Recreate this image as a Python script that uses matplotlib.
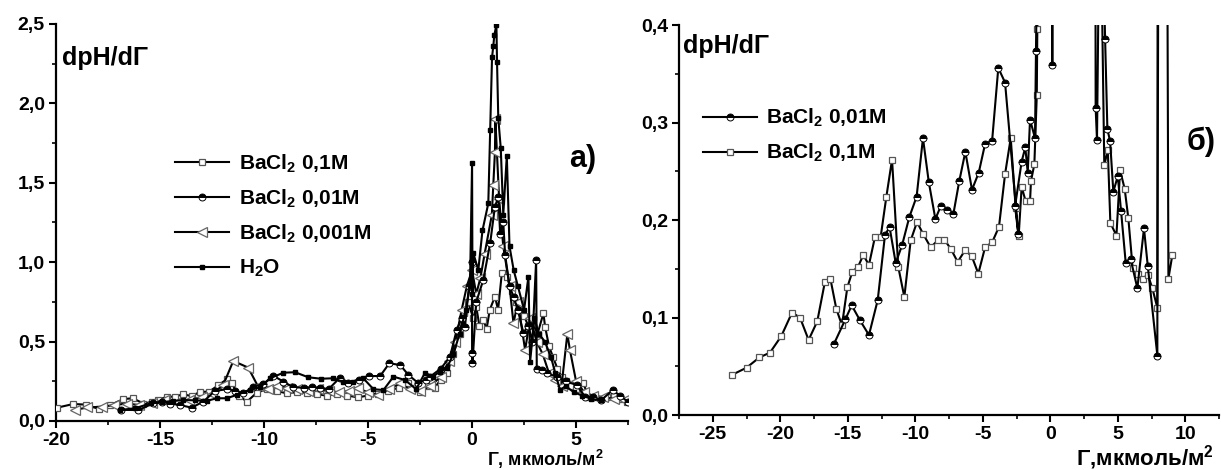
import matplotlib

matplotlib.use("Agg")
import matplotlib.pyplot as plt
from matplotlib.ticker import MultipleLocator, FuncFormatter

plt.rcParams.update({
    "font.family": ["Liberation Sans", "DejaVu Sans"],
    "font.weight": "bold",
    "mathtext.default": "regular",
    "axes.linewidth": 1.6,
})

# ---- panel a) : dpH/dG vs G, four solutions ----
a_sq_x = [-19.94, -19.17, -18.56, -17.95, -17.4, -16.76, -16.31, -15.8, -15.4, -15.08, -14.68, -14.28,
          -13.91, -13.48, -13.08, -12.64, -12.2, -11.8, -11.56, -11.2, -10.83, -10.35, -9.87, -9.39,
          -8.91, -8.43, -7.95, -7.47, -6.99, -6.5, -6.0, -5.5, -5.0, -4.51, -4.02, -3.5, -3.06, -2.5,
          -2.1, -1.8, -1.5, -1.2, -0.9, -0.6, -0.4, -0.2, 0.06, 0.2, 0.35, 0.54, 0.7, 0.85, 1.1, 1.25,
          1.43, 1.67, 1.9, 2.1, 2.3, 2.5, 2.7, 2.9, 3.15, 3.43, 3.51, 3.7, 3.9, 4.1, 4.3, 4.5, 4.75,
          5.0, 5.35, 5.6, 5.9, 6.2, 6.5, 6.8, 7.1, 7.44]
a_sq_y = [0.084, 0.107, 0.103, 0.076, 0.10, 0.138, 0.143, 0.11, 0.12, 0.132, 0.153, 0.153,
          0.168, 0.157, 0.183, 0.185, 0.225, 0.262, 0.237, 0.16, 0.121, 0.178, 0.201, 0.189,
          0.174, 0.181, 0.178, 0.170, 0.159, 0.17, 0.16, 0.149, 0.16, 0.17, 0.191, 0.21, 0.237, 0.185,
          0.22, 0.21, 0.26, 0.30, 0.42, 0.55, 0.68, 0.75, 0.647, 0.72, 0.60, 0.636, 0.58, 0.70, 0.783, 0.70,
          0.93, 0.909, 0.82, 0.75, 0.70, 0.66, 0.60, 0.62, 0.55, 0.678, 0.594, 0.47, 0.40, 0.33, 0.28, 0.25, 0.22,
          0.20, 0.237, 0.15, 0.15, 0.14, 0.15, 0.16, 0.14, 0.122]

a_ci_x = [-16.9, -16.04, -15.32, -14.9, -14.5, -14.04, -13.48, -12.92, -12.36, -11.8, -11.4, -11.0,
          -10.51, -10.03, -9.55, -9.07, -8.59, -8.1, -7.71, -7.3, -6.9, -6.35, -5.95, -5.45, -4.94,
          -4.42, -3.98, -3.46, -3.06, -2.6, -2.2, -2.02, -1.5, -1.06, -0.74, -0.5, -0.34, -0.15, 0.0,
          0.0, 0.02, 0.2, 0.54, 0.87, 1.1, 1.26, 1.35, 1.5, 1.59, 1.8, 2.0, 2.2, 2.47, 2.7, 2.9, 3.08,
          3.11, 3.35, 3.6, 4.07, 4.5, 5.03, 5.43, 5.8, 6.2, 6.76, 7.1, 7.5]
a_ci_y = [0.07, 0.069, 0.111, 0.12, 0.11, 0.10, 0.084, 0.122, 0.189, 0.20, 0.19, 0.174,
          0.216, 0.233, 0.285, 0.2475, 0.212, 0.21, 0.212, 0.21, 0.20, 0.273, 0.241, 0.26, 0.283,
          0.283, 0.363, 0.353, 0.29, 0.24, 0.26, 0.279, 0.33, 0.405, 0.573, 0.65, 0.594, 0.85, 1.0,
          0.426, 0.363, 0.75, 0.888, 1.12, 1.35, 1.41, 1.18, 1.25, 1.045, 0.85, 0.78, 0.70, 0.552, 0.60, 0.50, 1.014,
          0.33, 0.321, 0.30, 0.279, 0.25, 0.227, 0.153, 0.15, 0.13, 0.195, 0.16, 0.12]

a_tr_x = [-19.09, -18.5, -17.8, -17.2, -16.6, -16.0, -15.4, -14.8, -14.2, -13.6, -13.0, -12.5,
          -11.96, -11.48, -10.76, -10.3, -9.8, -9.4, -8.9, -8.4, -7.9, -7.4, -6.9, -6.4, -5.9, -5.47,
          -5.0, -4.51, -4.0, -3.46, -3.0, -2.5, -2.0, -1.5, -1.1, -0.8, -0.5, -0.25, 0.0, 0.2, 0.4,
          0.6, 0.95, 1.02, 1.1, 1.12, 1.3, 1.5, 1.8, 1.99, 2.2, 2.55, 2.8, 3.1, 3.4, 3.7, 4.0, 4.3,
          4.58, 4.7, 5.0, 5.4, 5.8, 6.3, 6.8, 7.3]
a_tr_y = [0.07, 0.085, 0.09, 0.10, 0.11, 0.10, 0.115, 0.13, 0.12, 0.13, 0.15, 0.17,
          0.227, 0.378, 0.336, 0.22, 0.20, 0.22, 0.21, 0.20, 0.19, 0.20, 0.19, 0.18, 0.19, 0.206,
          0.18, 0.164, 0.20, 0.237, 0.20, 0.19, 0.22, 0.28, 0.38, 0.50, 0.70, 0.85, 0.95, 0.80, 0.90,
          1.05, 1.297, 1.486, 1.696, 1.90, 1.40, 1.10, 0.85, 0.615, 0.75, 0.447, 0.65, 0.50, 0.42, 0.30, 0.26, 0.22,
          0.548, 0.45, 0.25, 0.18, 0.16, 0.15, 0.14, 0.13]

a_w_x = [-16.92, -16.2, -15.45, -14.9, -14.4, -13.88, -13.3, -12.76, -12.28, -11.8, -11.31, -10.67,
         -10.19, -9.71, -9.07, -8.51, -7.87, -7.26, -6.67, -6.22, -5.74, -5.23, -4.74, -4.26, -3.78,
         -3.22, -2.69, -2.26, -1.9, -1.54, -1.22, -0.9, -0.6, -0.3, -0.1, 0.0, 0.02, 0.06, 0.3, 0.5,
         0.78, 0.87, 0.96, 1.02, 1.07, 1.17, 1.2, 1.26, 1.38, 1.5, 1.67, 1.8, 2.0, 2.2, 2.5, 2.71,
         2.79, 3.0, 3.2, 3.5, 3.8, 4.0, 4.23, 4.5, 4.9, 5.3, 5.7, 6.2]
a_w_y = [0.069, 0.08, 0.111, 0.12, 0.125, 0.132, 0.13, 0.126, 0.143, 0.143, 0.164, 0.195,
         0.212, 0.269, 0.304, 0.307, 0.275, 0.266, 0.269, 0.2475, 0.2475, 0.269, 0.20, 0.195, 0.279,
         0.258, 0.20, 0.304, 0.28, 0.31, 0.332, 0.42, 0.55, 0.70, 0.85, 1.623, 0.80, 1.056, 0.95, 1.2,
         1.37, 1.83, 2.29, 2.36, 2.43, 2.494, 2.26, 1.906, 1.717, 1.3, 1.67, 1.1, 0.95, 0.85, 0.70, 0.909,
         0.373, 0.65, 0.55, 0.50, 0.40, 0.30, 0.195, 0.22, 0.18, 0.16, 0.14, 0.13]

# ---- panel б) : zoom on 0.01M and 0.1M ----
b_ci_x = [-16.02, -15.18, -14.71, -14.09, -13.43, -12.78, -12.24, -11.9, -11.45, -10.98, -10.44,
          -9.9, -9.43, -9.0, -8.51, -8.12, -7.67, -7.18, -6.74, -6.29, -5.8, -5.3, -4.83, -4.31,
          -3.85, -3.35, -2.37, -2.61, -2.12, -1.85, -1.67, -1.5, -1.13, -1.06, -0.7, -0.1, 0.15,
          0.4, 2.5, 3.3, 3.36, 3.46, 3.7, 4.06, 4.23, 4.43, 4.67, 5.0, 5.24, 5.59, 5.95, 6.45,
          6.94, 7.22, 7.93, 8.0]
b_ci_y = [0.073, 0.098, 0.1125, 0.097, 0.082, 0.118, 0.185, 0.1925, 0.156, 0.174, 0.203,
          0.224, 0.284, 0.239, 0.201, 0.214, 0.210, 0.206, 0.240, 0.270, 0.231, 0.2485, 0.278, 0.281,
          0.356, 0.341, 0.186, 0.214, 0.260, 0.2745, 0.2485, 0.303, 0.284, 0.373, 0.8, 1.2, 0.359,
          1.3, 2.0, 1.0, 0.315, 0.282, 0.6, 0.386, 0.293, 0.281, 0.229, 0.245, 0.2095, 0.1556, 0.16, 0.130,
          0.1915, 0.153, 0.061, 1.5]

b_sq_x = [-23.6, -22.5, -21.55, -20.76, -19.92, -19.13, -18.54, -17.9, -17.26, -16.7, -16.29,
          -15.85, -15.43, -15.03, -14.66, -14.24, -13.85, -13.43, -12.98, -12.56, -12.14, -11.72,
          -11.26, -10.81, -10.34, -9.87, -9.43, -8.86, -8.34, -7.85, -7.35, -6.86, -6.31, -5.82,
          -5.33, -4.83, -4.31, -3.8, -3.35, -2.93, -2.56, -2.34, -2.12, -1.82, -1.5, -1.43, -1.18,
          -1.0, -0.96, -0.6, 0.0, 1.0, 2.5, 3.0, 3.7, 4.0, 4.26, 4.45, 4.9, 5.17, 5.51, 5.78,
          6.1, 6.52, 6.85, 7.22, 7.56, 7.93, 8.3, 8.75, 9.04]
b_sq_y = [0.041, 0.0485, 0.059, 0.064, 0.081, 0.105, 0.100, 0.077, 0.096, 0.136, 0.140,
          0.109, 0.092, 0.131, 0.147, 0.152, 0.164, 0.154, 0.183, 0.183, 0.224, 0.262,
          0.152, 0.121, 0.179, 0.198, 0.186, 0.172, 0.179, 0.180, 0.170, 0.157, 0.169, 0.163,
          0.145, 0.172, 0.177, 0.193, 0.247, 0.284, 0.212, 0.184, 0.234, 0.219, 0.219, 0.240, 0.257,
          0.328, 0.396, 0.6, 1.0, 2.0, 1.5, 1.2, 0.55, 0.256, 0.272, 0.197, 0.184, 0.251, 0.232, 0.202,
          0.151, 0.145, 0.140, 0.144, 0.13, 0.11, 2.0, 0.140, 0.164]

LBL_01 = "BaCl$_2$ 0,1M"
LBL_001 = "BaCl$_2$ 0,01M"
LBL_0001 = "BaCl$_2$ 0,001M"
LBL_W = "H$_2$O"

comma = FuncFormatter(lambda v, _: f"{v:.1f}".replace(".", ","))
intfmt = FuncFormatter(lambda v, _: f"{v:.0f}")

sq_style = dict(color="black", lw=1.5, marker="s", ms=4.8, mfc="white", mec="#555555", mew=0.9)
ci_style = dict(color="black", lw=1.5, marker="o", ms=5.0, fillstyle="top", mfc="black",
                mfcalt="white", mec="black", mew=0.7)
tr_style = dict(color="black", lw=1.5, marker="<", ms=6.5, mfc="white", mec="#666666", mew=0.9)
w_style = dict(color="black", lw=1.5, marker="s", ms=3.3, mfc="black", mec="black")


def style_axes(ax):
    ax.spines[["top", "right"]].set_visible(False)
    ax.tick_params(which="major", direction="out", length=5, width=1.5, labelsize=14, pad=3)
    ax.tick_params(which="minor", direction="out", length=3, width=1.2)
    for lab in ax.get_xticklabels() + ax.get_yticklabels():
        lab.set_fontweight("bold")


fig = plt.figure(figsize=(12.21, 4.70), dpi=100)

ax1 = fig.add_axes([0.0459, 0.1043, 0.4685, 0.8447])
ax1.plot(a_sq_x, a_sq_y, label=LBL_01, zorder=3, **sq_style)
ax1.plot(a_ci_x, a_ci_y, label=LBL_001, zorder=4, **ci_style)
ax1.plot(a_tr_x, a_tr_y, label=LBL_0001, zorder=3, **tr_style)
ax1.plot(a_w_x, a_w_y, label=LBL_W, zorder=5, **w_style)
ax1.set_xlim(-20, 7.5)
ax1.set_ylim(0, 2.5)
ax1.xaxis.set_major_locator(MultipleLocator(5))
ax1.xaxis.set_minor_locator(MultipleLocator(2.5))
ax1.yaxis.set_major_locator(MultipleLocator(0.5))
ax1.yaxis.set_minor_locator(MultipleLocator(0.25))
ax1.yaxis.set_major_formatter(comma)
ax1.xaxis.set_major_formatter(intfmt)
style_axes(ax1)
ax1.legend(loc="upper left", bbox_to_anchor=(0.208, 0.677), frameon=False, handlelength=2.6,
           handletextpad=0.45, labelspacing=0.62, borderpad=0, borderaxespad=0,
           prop=dict(size=15, weight="bold"))

ax2 = fig.add_axes([0.5561, 0.117, 0.4423, 0.8298])
ax2.plot(b_ci_x, b_ci_y, label=LBL_001, zorder=4, **ci_style)
ax2.plot(b_sq_x, b_sq_y, label=LBL_01, zorder=3, **sq_style)
ax2.set_xlim(-27.5, 12.5)
ax2.set_ylim(0, 0.4)
ax2.xaxis.set_major_locator(MultipleLocator(5))
ax2.xaxis.set_minor_locator(MultipleLocator(2.5))
ax2.yaxis.set_major_locator(MultipleLocator(0.1))
ax2.yaxis.set_minor_locator(MultipleLocator(0.05))
ax2.yaxis.set_major_formatter(comma)
ax2.xaxis.set_major_formatter(intfmt)
style_axes(ax2)
ax2.legend(loc="upper left", bbox_to_anchor=(0.044, 0.79), frameon=False, handlelength=2.6,
           handletextpad=0.45, labelspacing=0.62, borderpad=0, borderaxespad=0,
           prop=dict(size=15, weight="bold"))

W, H = 1221, 470
fig.text(62 / W, 1 - 58 / H, "dpH/dΓ", fontsize=18, fontweight="bold", va="center", ha="left")
fig.text(683 / W, 1 - 46 / H, "dpH/dΓ", fontsize=18, fontweight="bold", va="center", ha="left")
fig.text(583 / W, 1 - 159 / H, "a)", fontsize=22, fontweight="bold", va="center", ha="center")
fig.text(1201 / W, 1 - 142 / H, "б)", fontsize=22, fontweight="bold", va="center", ha="center")
fig.text(604 / W, 1 - 466 / H, "Γ, мкмоль/м$^2$", fontsize=13, fontweight="bold", va="baseline", ha="right")
fig.text(1214 / W, 1 - 465 / H, "Γ,мкмоль/м$^2$", fontsize=16, fontweight="bold", va="baseline", ha="right")

fig.savefig("out.png", dpi=100)
